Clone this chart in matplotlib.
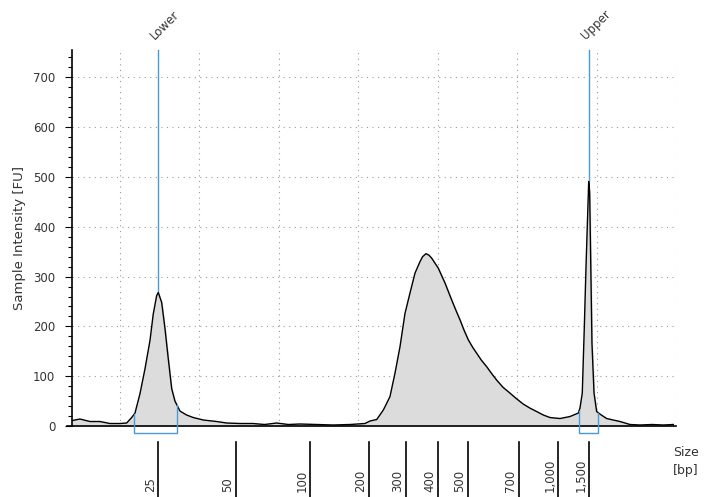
import numpy as np
import matplotlib
matplotlib.use("Agg")
import matplotlib.pyplot as plt
import matplotlib.transforms as mtransforms

# migration time (s) and intensity (FU)
t_s = [44.0, 44.96, 46.22, 47.48, 48.74, 50.0, 50.84, 51.47, 51.89, 52.52,
       53.15, 53.78, 54.19, 54.62, 54.82, 55.25, 55.67, 56.08, 56.51, 56.92,
       57.55, 58.40, 59.23, 60.49, 62.17, 63.43, 65.11, 66.74, 68.2, 69.73,
       71.2, 72.66, 74.8, 76.82, 78.96, 80.84, 81.47, 82.32, 83.15, 83.99,
       84.62, 85.25, 85.88, 86.51, 87.14, 87.77, 88.1, 88.52, 88.9, 89.24,
       90.07, 90.92, 91.76, 92.3, 92.81, 93.3, 93.85, 94.4, 94.91, 95.5,
       96.17, 96.8, 97.43, 98.2, 99.10, 99.9, 100.77, 101.6, 102.46, 103.3,
       104.14, 105.40, 106.65, 107.70, 107.91, 108.20, 108.46, 108.67, 108.83, 109.01,
       109.13, 109.26, 109.42, 109.68, 110.01, 110.6, 111.27, 112.1, 112.95, 114.21,
       115.47, 116.98, 118.40, 119.66]
fu = [11, 14, 9, 9, 5, 5, 6, 17, 26, 65,
      115, 172, 225, 262, 268, 248, 195, 135, 75, 50,
      30, 22, 17, 12, 9, 6, 5, 5, 3, 6,
      3, 4, 3, 2, 3, 5, 10, 13, 32, 59,
      106, 159, 226, 267, 307, 330, 340, 346, 343, 337,
      317, 287, 253, 232, 213, 193, 173, 158, 146, 132,
      119, 105, 92, 78, 66, 55, 44, 36, 29, 22,
      17, 15, 19, 26, 36, 66, 200, 320, 400, 491,
      468, 334, 166, 66, 29, 22, 15, 12, 9, 3,
      2, 3, 2, 3]

ladder_bp = ["25", "50", "100", "200", "300", "400", "500", "700", "1,000", "1,500"]
ladder_t = [54.82, 64.60, 73.92, 81.31, 85.97, 90.0, 93.78, 100.23, 105.18, 109.08]

markers = ["Lower", "Upper"]
marker_t = [54.82, 109.08]
marker_peak = [268, 491]
marker_win = [(51.76, 57.18), (107.79, 110.18)]

grid_t = [50, 60, 70, 80, 90, 100, 110, 120]

blue = "#4a9ad8"
txt = "#333333"

fig = plt.figure(figsize=(7.05, 4.97), dpi=100)
ax = fig.add_axes([72/705, 1-426/497, 604/705, 376/497])

ax.fill_between(t_s, fu, 0, color="#dcdcdc", zorder=2)
ax.plot(t_s, fu, color="black", lw=1.0, zorder=3)

ax.set_xlim(43.96, 120)
ax.set_ylim(0, 755)

ax.set_xticks(grid_t)
ax.tick_params(axis="x", length=0, labelbottom=False)
ax.set_yticks(np.arange(0, 701, 100))
ax.set_yticks(np.arange(0, 741, 20), minor=True)
ax.tick_params(axis="y", which="major", length=5, width=0.8, colors="black",
               labelcolor=txt, labelsize=8.5, pad=7)
ax.tick_params(axis="y", which="minor", length=3, width=0.8, colors="black")
ax.grid(True, which="major", color="#9a9a9a", linestyle=(0, (1, 4)), lw=0.8, zorder=0)

for s in ["top", "right"]:
    ax.spines[s].set_visible(False)
ax.spines["left"].set_linewidth(1.2)
ax.spines["bottom"].set_linewidth(1.2)
ax.spines["bottom"].set_bounds(43.3, 120)

ax.set_ylabel("Sample Intensity [FU]", fontsize=9.5, color=txt, labelpad=5)

# marker lines, labels and integration windows
for name, tm, pk, (w0, w1) in zip(markers, marker_t, marker_peak, marker_win):
    ax.plot([tm, tm], [pk, 755], color=blue, lw=1.0, zorder=1, clip_on=False)
    off = mtransforms.offset_copy(ax.get_xaxis_transform(), fig=fig, x=-10, y=8, units="dots")
    ax.text(tm, 1.0, name, transform=off, rotation=45, ha="left", va="bottom",
            fontsize=8.5, color=txt)
    y0 = np.interp(w0, t_s, fu)
    y1 = np.interp(w1, t_s, fu)
    ax.plot([w0, w0, w1, w1], [y0, -13.5, -13.5, y1], color=blue, lw=1.0,
            zorder=4, clip_on=False)

# ladder sizes below the axis
bt = mtransforms.blended_transform_factory(ax.transData, fig.transFigure)
for lab, tl in zip(ladder_bp, ladder_t):
    ax.plot([tl, tl], [55/497, 0], color="black", lw=1.2, transform=bt, clip_on=False)
    lt = mtransforms.offset_copy(bt, fig=fig, x=-8, y=0, units="dots")
    ax.text(tl, 5/497, lab, transform=lt, rotation=90, ha="center", va="bottom",
            fontsize=8.5, color=txt)

fig.text(673/705, 1-446/497, "Size\n[bp]", ha="left", va="top", fontsize=9,
         color=txt, linespacing=1.5)

fig.savefig("out.png", dpi=100)
